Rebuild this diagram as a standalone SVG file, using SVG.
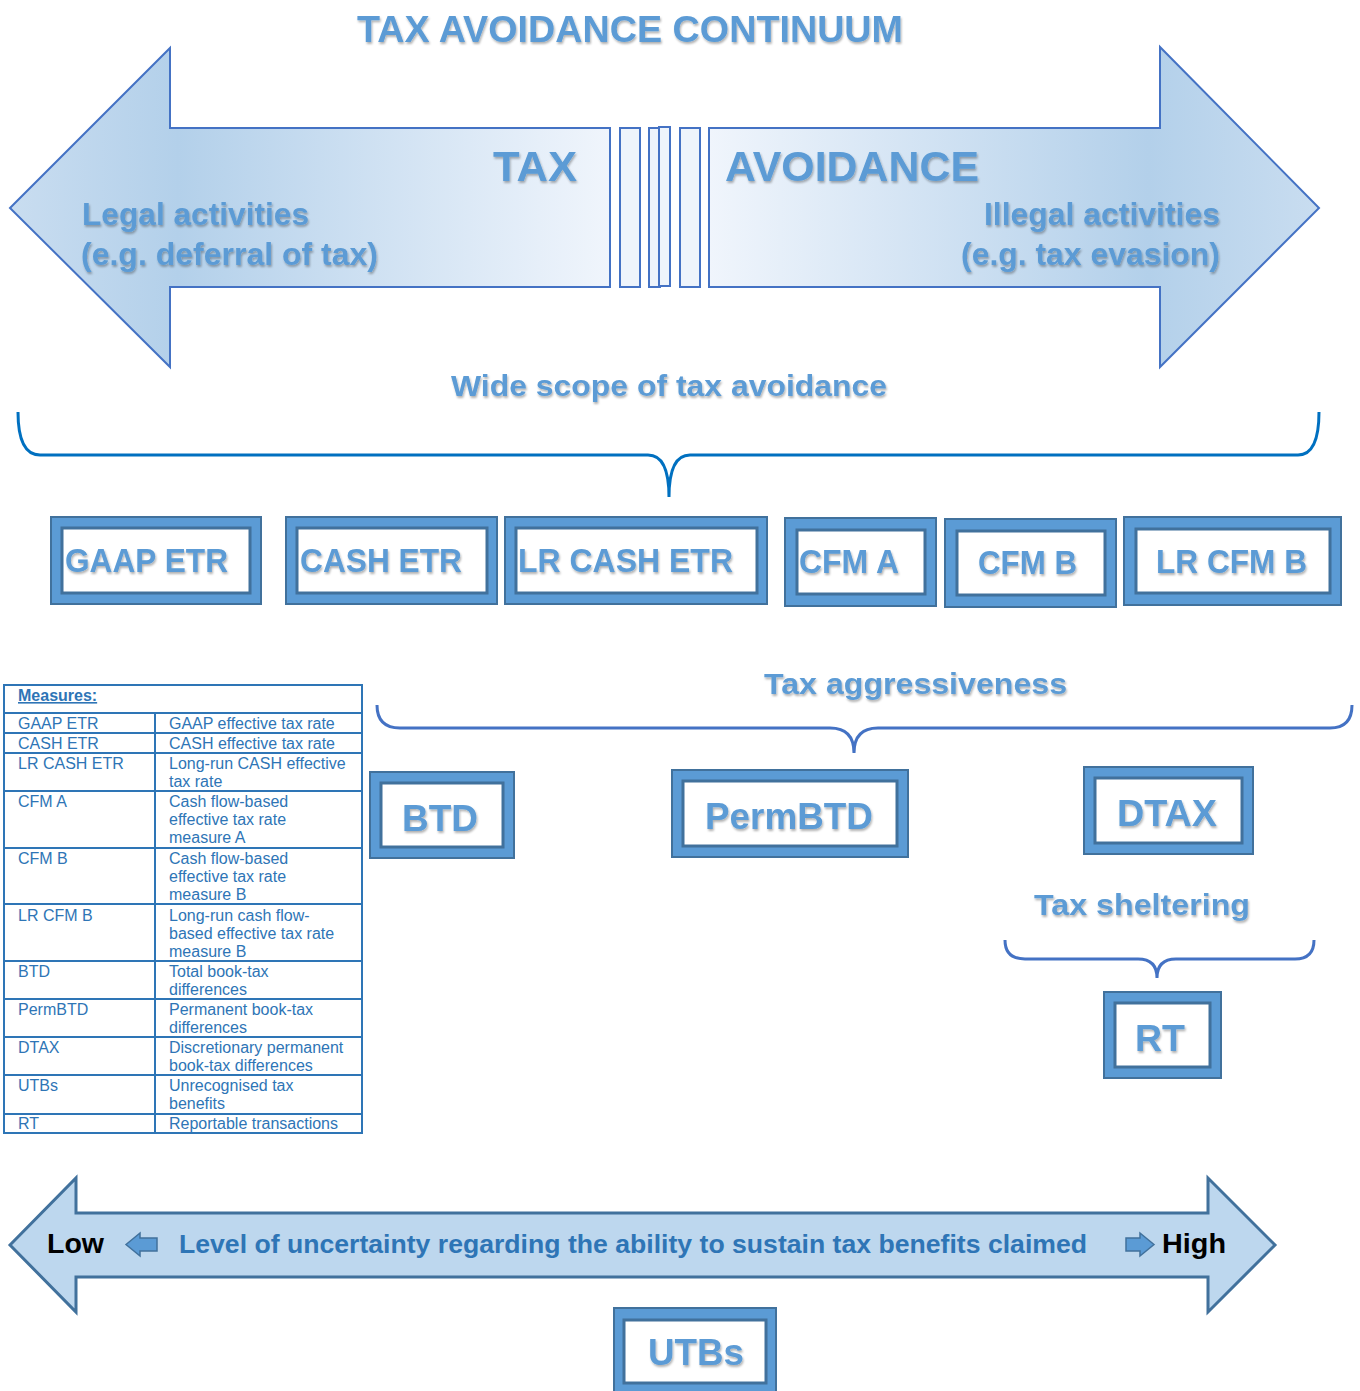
<svg xmlns="http://www.w3.org/2000/svg" width="1360" height="1391" viewBox="0 0 1360 1391">
<defs>
<linearGradient id="gl" gradientUnits="userSpaceOnUse" x1="10" y1="0" x2="610" y2="0">
<stop offset="0" stop-color="#c9ddf0"/><stop offset="0.28" stop-color="#b3d0ea"/><stop offset="1" stop-color="#f0f5fc"/>
</linearGradient>
<linearGradient id="gr" gradientUnits="userSpaceOnUse" x1="709" y1="0" x2="1319" y2="0">
<stop offset="0" stop-color="#f0f5fc"/><stop offset="0.72" stop-color="#b3d0ea"/><stop offset="1" stop-color="#c9ddf0"/>
</linearGradient>
<filter id="sh" x="-10%" y="-20%" width="120%" height="150%">
<feDropShadow dx="1" dy="2" stdDeviation="1.2" flood-color="#000" flood-opacity="0.3"/>
</filter>
<style>
.h{font-family:"Liberation Sans",Arial,sans-serif;font-weight:bold;fill:#5b9bd5;filter:url(#sh)}
.bo{fill:#5b9bd5;stroke:#41719c;stroke-width:2}
.bi{fill:#fff;stroke:#41719c;stroke-width:3}
.bt{font-family:"Liberation Sans",Arial,sans-serif;font-weight:bold;fill:#5b9bd5;filter:url(#sh)}
.br{fill:none;stroke:#4472c4;stroke-width:3}
.t{font-family:"Liberation Sans",Arial,sans-serif;font-size:16px;fill:#2e75b6}
.tl{stroke:#2e75b6;stroke-width:2;fill:none}
.bar{fill:#eef4fb;stroke:#4472c4;stroke-width:2}
</style>
</defs>
<rect width="1360" height="1391" fill="#fff"/>

<text class="h" x="357" y="42" font-size="37" textLength="546" lengthAdjust="spacingAndGlyphs">TAX AVOIDANCE CONTINUUM</text>

<g id="continuum">
<path d="M10,208 L170,48 L170,128 L610,128 L610,287 L170,287 L170,367 Z" fill="url(#gl)" stroke="#4472c4" stroke-width="2"/>
<path d="M709,128 L1160,128 L1160,47 L1319,208 L1160,367 L1160,287 L709,287 Z" fill="url(#gr)" stroke="#4472c4" stroke-width="2"/>
<rect class="bar" x="620" y="128" width="20" height="159"/>
<rect class="bar" x="649" y="128" width="11" height="159"/>
<rect class="bar" x="659" y="127" width="11" height="159"/>
<rect class="bar" x="680" y="128" width="20" height="159"/>
<text class="h" x="493" y="181" font-size="42" textLength="84" lengthAdjust="spacingAndGlyphs">TAX</text>
<text class="h" x="725" y="181" font-size="42" textLength="254" lengthAdjust="spacingAndGlyphs">AVOIDANCE</text>
<text class="h" x="82" y="225" font-size="31" textLength="227" lengthAdjust="spacingAndGlyphs">Legal activities</text>
<text class="h" x="81" y="265" font-size="31" textLength="297" lengthAdjust="spacingAndGlyphs">(e.g. deferral of tax)</text>
<text class="h" x="984" y="225" font-size="31" textLength="236" lengthAdjust="spacingAndGlyphs">Illegal activities</text>
<text class="h" x="961" y="265" font-size="31" textLength="259" lengthAdjust="spacingAndGlyphs">(e.g. tax evasion)</text>
</g>

<text class="h" x="451" y="396" font-size="30" textLength="436" lengthAdjust="spacingAndGlyphs">Wide scope of tax avoidance</text>
<text class="h" x="764" y="694" font-size="30" textLength="303" lengthAdjust="spacingAndGlyphs">Tax aggressiveness</text>
<text class="h" x="1034" y="915" font-size="30" textLength="216" lengthAdjust="spacingAndGlyphs">Tax sheltering</text>

<g id="connectors">
<path d="M18,412 Q18,455 40,455 L648,455 Q669,455 669,497 Q669,455 690,455 L1298,455 Q1319,455 1319,412" fill="none" stroke="#0070c0" stroke-width="3"/>
<path class="br" d="M377,705 Q377,728 400,728 L830,728 Q854,728 854,753 Q854,728 878,728 L1330,728 Q1352,728 1352,705"/>
<path class="br" d="M1005,940 Q1005,959 1025,959 L1138,959 Q1157,959 1157,978 Q1157,959 1176,959 L1295,959 Q1314,959 1314,940"/>
</g>

<g id="gaap-etr"><rect class="bo" x="51" y="517" width="210" height="87"/><rect class="bi" x="62" y="528" width="188" height="65"/><text class="bt" x="65" y="572" font-size="33" textLength="163" lengthAdjust="spacingAndGlyphs">GAAP ETR</text></g>
<g id="cash-etr"><rect class="bo" x="286" y="517" width="211" height="87"/><rect class="bi" x="297" y="528" width="190" height="65"/><text class="bt" x="300" y="572" font-size="33" textLength="162" lengthAdjust="spacingAndGlyphs">CASH ETR</text></g>
<g id="lr-cash-etr"><rect class="bo" x="505" y="517" width="262" height="87"/><rect class="bi" x="516" y="528" width="241" height="65"/><text class="bt" x="518" y="572" font-size="33" textLength="215" lengthAdjust="spacingAndGlyphs">LR CASH ETR</text></g>
<g id="cfm-a"><rect class="bo" x="785" y="518" width="151" height="88"/><rect class="bi" x="797" y="530" width="128" height="64"/><text class="bt" x="799" y="573" font-size="33" textLength="100" lengthAdjust="spacingAndGlyphs">CFM A</text></g>
<g id="cfm-b"><rect class="bo" x="945" y="519" width="171" height="88"/><rect class="bi" x="957" y="531" width="148" height="64"/><text class="bt" x="978" y="574" font-size="33" textLength="99" lengthAdjust="spacingAndGlyphs">CFM B</text></g>
<g id="lr-cfm-b"><rect class="bo" x="1124" y="517" width="217" height="88"/><rect class="bi" x="1136" y="529" width="194" height="64"/><text class="bt" x="1156" y="573" font-size="33" textLength="151" lengthAdjust="spacingAndGlyphs">LR CFM B</text></g>

<g id="btd"><rect class="bo" x="370" y="772" width="144" height="86"/><rect class="bi" x="381" y="783" width="122" height="64"/><text class="bt" x="402" y="831" font-size="37" textLength="76" lengthAdjust="spacingAndGlyphs">BTD</text></g>
<g id="permbtd"><rect class="bo" x="672" y="770" width="236" height="87"/><rect class="bi" x="683" y="781" width="214" height="65"/><text class="bt" x="705" y="829" font-size="37" textLength="168" lengthAdjust="spacingAndGlyphs">PermBTD</text></g>
<g id="dtax"><rect class="bo" x="1084" y="767" width="169" height="87"/><rect class="bi" x="1095" y="778" width="147" height="65"/><text class="bt" x="1117" y="826" font-size="37" textLength="100" lengthAdjust="spacingAndGlyphs">DTAX</text></g>
<g id="rt"><rect class="bo" x="1104" y="992" width="117" height="86"/><rect class="bi" x="1115" y="1003" width="95" height="64"/><text class="bt" x="1135" y="1051" font-size="37" textLength="50" lengthAdjust="spacingAndGlyphs">RT</text></g>

<g id="measures-table">
<rect class="tl" x="4" y="685" width="358" height="448"/>
<path class="tl" d="M4,713H362M4,733H362M4,753H362M4,791H362M4,848H362M4,904H362M4,961H362M4,999H362M4,1037H362M4,1075H362M4,1114H362M155,713V1133"/>
<text class="t" x="18" y="701" font-weight="bold" text-decoration="underline" font-size="15">Measures:</text>
<g class="t">
<text x="18" y="729">GAAP ETR</text><text x="169" y="729">GAAP effective tax rate</text>
<text x="18" y="749">CASH ETR</text><text x="169" y="749">CASH effective tax rate</text>
<text x="18" y="769">LR CASH ETR</text><text x="169" y="769">Long-run CASH effective</text><text x="169" y="787">tax rate</text>
<text x="18" y="807">CFM A</text><text x="169" y="807">Cash flow-based</text><text x="169" y="825">effective tax rate</text><text x="169" y="843">measure A</text>
<text x="18" y="864">CFM B</text><text x="169" y="864">Cash flow-based</text><text x="169" y="882">effective tax rate</text><text x="169" y="900">measure B</text>
<text x="18" y="921">LR CFM B</text><text x="169" y="921">Long-run cash flow-</text><text x="169" y="939">based effective tax rate</text><text x="169" y="957">measure B</text>
<text x="18" y="977">BTD</text><text x="169" y="977">Total book-tax</text><text x="169" y="995">differences</text>
<text x="18" y="1015">PermBTD</text><text x="169" y="1015">Permanent book-tax</text><text x="169" y="1033">differences</text>
<text x="18" y="1053">DTAX</text><text x="169" y="1053">Discretionary permanent</text><text x="169" y="1071">book-tax differences</text>
<text x="18" y="1091">UTBs</text><text x="169" y="1091">Unrecognised tax</text><text x="169" y="1109">benefits</text>
<text x="18" y="1129">RT</text><text x="169" y="1129">Reportable transactions</text>
</g>
</g>

<g id="uncertainty-arrow">
<path d="M10,1245 L76,1178 L76,1213 L1208,1213 L1208,1178 L1275,1245 L1208,1312 L1208,1277 L76,1277 L76,1312 Z" fill="#bdd7ee" stroke="#41719c" stroke-width="3"/>
<path d="M126,1244.5 L140,1233 L140,1238 L157,1238 L157,1251 L140,1251 L140,1256 Z" fill="#5b9bd5" stroke="#41719c" stroke-width="1.5"/>
<path d="M1154,1244.5 L1140,1233 L1140,1238 L1126,1238 L1126,1251 L1140,1251 L1140,1256 Z" fill="#5b9bd5" stroke="#41719c" stroke-width="1.5"/>
<text x="47" y="1253" font-family="Liberation Sans, Arial, sans-serif" font-weight="bold" font-size="28" fill="#000" textLength="57" lengthAdjust="spacingAndGlyphs">Low</text>
<text x="179" y="1253" font-family="Liberation Sans, Arial, sans-serif" font-weight="bold" font-size="25" fill="#2e75b6" textLength="908" lengthAdjust="spacingAndGlyphs">Level of uncertainty regarding the ability to sustain tax benefits claimed</text>
<text x="1162" y="1253" font-family="Liberation Sans, Arial, sans-serif" font-weight="bold" font-size="28" fill="#000" textLength="64" lengthAdjust="spacingAndGlyphs">High</text>
</g>

<g id="utbs"><rect class="bo" x="614" y="1308" width="162" height="90"/><rect class="bi" x="624" y="1320" width="142" height="63"/><text class="bt" x="648" y="1365" font-size="36" textLength="96" lengthAdjust="spacingAndGlyphs">UTBs</text></g>
</svg>
